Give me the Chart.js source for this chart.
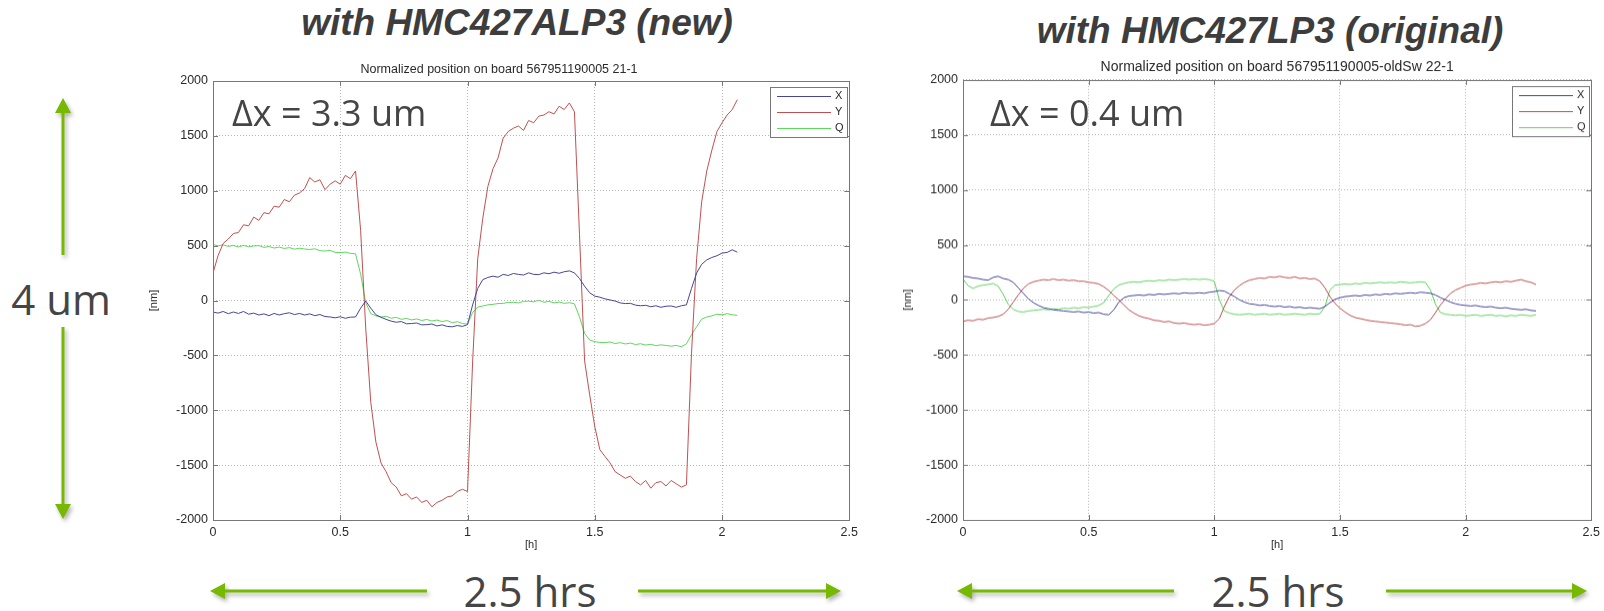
<!DOCTYPE html>
<html>
<head>
<meta charset="utf-8">
<script src="https://cdn.jsdelivr.net/npm/chart.js@4.4.1/dist/chart.umd.min.js"></script>
<style>
  html, body { margin:0; padding:0; background:#fff; }
  body { width:1604px; height:611px; position:relative; overflow:hidden; }
  canvas { position:absolute; }
  .head { position:absolute; font-family:"Liberation Sans", Arial, sans-serif; font-weight:bold; font-style:italic;
          font-size:37px; color:#3d3d3d; white-space:nowrap; line-height:1; transform:translate(-50%,-50%); }
  .note { position:absolute; font-family:"Open Sans", sans-serif; color:#454545; white-space:nowrap; line-height:1; }
  .mid { transform:translate(-50%,-50%); }
  svg { position:absolute; left:0; top:0; }
</style>
</head>
<body>
<canvas id="leftChart" width="716" height="496" style="left:147px;top:56px;width:716px;height:496px"></canvas>
<canvas id="rightChart" width="704" height="498" style="left:901px;top:53px;width:704px;height:499px"></canvas>

<div class="head" style="left:517px;top:22px">with HMC427ALP3 (new)</div>
<div class="head" style="left:1270px;top:30px">with HMC427LP3 (original)</div>
<div class="note" style="left:232px;top:95px;font-size:36px">Δx = 3.3 um</div>
<div class="note" style="left:990px;top:95px;font-size:36px">Δx = 0.4 um</div>
<div class="note mid" style="left:61px;top:299px;font-size:42px">4 um</div>
<div class="note mid" style="left:530px;top:591px;font-size:42px">2.5 hrs</div>
<div class="note mid" style="left:1278px;top:591px;font-size:42px">2.5 hrs</div>

<svg width="1604" height="611" style="filter:drop-shadow(2px 3px 2px rgba(0,0,0,0.3))">
  <g stroke="#76b900" stroke-width="3">
    <line x1="63" y1="110" x2="63" y2="255"/>
    <line x1="63" y1="327" x2="63" y2="507"/>
    <line x1="222" y1="591" x2="427" y2="591"/>
    <line x1="638" y1="591" x2="829" y2="591"/>
    <line x1="969" y1="591" x2="1174" y2="591"/>
    <line x1="1386" y1="591" x2="1575" y2="591"/>
  </g>
  <g fill="#76b900">
    <polygon points="63,98 55,113 71,113"/>
    <polygon points="63,519 55,504 71,504"/>
    <polygon points="210,591 225,583 225,599"/>
    <polygon points="841,591 826,583 826,599"/>
    <polygon points="957,591 972,583 972,599"/>
    <polygon points="1587,591 1572,583 1572,599"/>
  </g>
</svg>

<script>
// time axis [h], one sample every 0.02 h
const hours = [
  0,0.02,0.04,0.06,0.08,0.1,0.12,0.14,0.16,0.18,
  0.2,0.22,0.24,0.26,0.28,0.3,0.32,0.34,0.36,0.38,
  0.4,0.42,0.44,0.46,0.48,0.5,0.52,0.54,0.56,0.58,
  0.6,0.62,0.64,0.66,0.68,0.7,0.72,0.74,0.76,0.78,
  0.8,0.82,0.84,0.86,0.88,0.9,0.92,0.94,0.96,0.98,
  1,1.02,1.04,1.06,1.08,1.1,1.12,1.14,1.16,1.18,
  1.2,1.22,1.24,1.26,1.28,1.3,1.32,1.34,1.36,1.38,
  1.4,1.42,1.44,1.46,1.48,1.5,1.52,1.54,1.56,1.58,
  1.6,1.62,1.64,1.66,1.68,1.7,1.72,1.74,1.76,1.78,
  1.8,1.82,1.84,1.86,1.88,1.9,1.92,1.94,1.96,1.98,
  2,2.02,2.04,2.06,2.08,2.1,2.12,2.14,2.16,2.18,
  2.2,2.22,2.24,2.26,2.28
];

// board 567951190005 21-1 (new switch), [nm]
const leftX = [
  -105,-115,-100,-120,-105,-118,-100,-125,-115,-132,
  -122,-138,-118,-132,-120,-112,-128,-118,-132,-122,
  -138,-128,-146,-150,-158,-148,-162,-152,-150,-70,
  -5,-70,-130,-152,-172,-188,-198,-192,-212,-210,
  -205,-222,-220,-214,-232,-222,-236,-240,-228,-236,
  -220,-40,110,190,210,222,212,238,228,246,
  238,232,252,238,236,252,244,258,248,262,
  270,252,200,130,70,40,30,15,5,-5,
  -22,-28,-26,-42,-48,-44,-57,-48,-62,-52,
  -50,-62,-48,-40,110,250,330,370,392,408,
  432,438,462,440
];
const leftY = [
  250,410,520,560,610,620,690,680,760,730,
  800,790,860,850,920,900,960,980,1020,1120,
  1080,1100,1010,1060,1090,1060,1140,1110,1180,640,
  -250,-930,-1290,-1480,-1560,-1660,-1700,-1780,-1760,-1810,
  -1790,-1840,-1820,-1880,-1840,-1820,-1790,-1780,-1740,-1720,
  -1740,-560,380,750,1040,1200,1300,1480,1540,1570,
  1590,1550,1640,1620,1680,1690,1720,1700,1770,1740,
  1800,1720,600,-550,-860,-1150,-1360,-1420,-1480,-1560,
  -1590,-1620,-1600,-1650,-1680,-1640,-1710,-1660,-1650,-1690,
  -1640,-1670,-1700,-1680,-480,380,900,1180,1370,1540,
  1620,1690,1740,1830
];
const leftQ = [
  510,498,507,493,502,488,502,490,497,500,
  484,492,478,487,474,482,468,476,469,465,
  471,454,451,456,439,436,441,429,425,240,
  -20,-120,-140,-152,-143,-162,-153,-172,-163,-177,
  -168,-182,-173,-187,-178,-192,-183,-202,-193,-210,
  -215,-110,-60,-50,-40,-35,-28,-26,-18,-16,
  -22,-8,-6,-12,2,-16,-8,-22,-14,-26,
  -20,-30,-150,-300,-360,-375,-382,-384,-378,-392,
  -384,-396,-388,-401,-394,-406,-399,-412,-404,-410,
  -416,-409,-421,-395,-310,-240,-170,-150,-140,-125,
  -130,-120,-130,-135
];

// board 567951190005-oldSw 22-1 (original switch), [nm]
const rightX = [
  215,210,200,195,185,180,205,215,195,185,
  160,110,60,10,-25,-50,-70,-80,-90,-95,
  -100,-105,-110,-105,-115,-110,-120,-115,-130,-135,
  -90,-20,20,35,40,45,40,50,45,55,
  50,55,60,55,65,60,60,65,60,70,
  75,85,80,55,30,0,-20,-35,-40,-50,
  -45,-55,-60,-55,-65,-60,-70,-65,-75,-70,
  -75,-80,-60,-25,5,20,30,35,40,35,
  45,40,50,45,55,50,60,55,60,65,
  60,70,65,60,45,20,0,-20,-35,-45,
  -50,-55,-50,-60,-65,-60,-70,-75,-70,-80,
  -85,-90,-85,-95,-100
];
const rightY = [
  -195,-185,-190,-175,-180,-165,-160,-150,-130,-85,
  -20,45,105,145,165,175,185,180,190,180,
  185,175,180,170,170,160,155,145,120,85,
  40,0,-45,-90,-120,-145,-160,-170,-185,-190,
  -200,-195,-210,-215,-210,-220,-225,-220,-230,-225,
  -215,-170,-60,30,90,130,160,180,190,200,
  195,210,205,215,205,200,210,195,200,190,
  195,170,110,30,-30,-75,-110,-140,-160,-170,
  -180,-190,-195,-200,-205,-210,-215,-220,-230,-225,
  -240,-235,-215,-180,-115,-45,10,60,90,110,
  130,140,145,155,150,160,165,160,170,165,
  175,185,170,160,140
];
const rightQ = [
  190,130,105,125,135,140,150,125,50,-40,
  -85,-105,-110,-100,-95,-90,-85,-90,-80,-85,
  -75,-80,-70,-75,-65,-70,-60,-50,-25,40,
  100,135,150,160,165,160,170,175,170,180,
  175,185,180,185,190,185,190,185,190,185,
  170,0,-100,-120,-130,-135,-130,-125,-135,-130,
  -125,-135,-130,-125,-135,-130,-125,-130,-135,-125,
  -130,-125,-60,90,135,140,145,140,150,145,
  155,150,155,160,155,160,155,165,160,155,
  160,165,160,90,-40,-115,-130,-135,-140,-135,
  -145,-140,-135,-145,-140,-135,-145,-140,-150,-140,
  -145,-135,-140,-145,-135
];

const seriesNames = ['X', 'Y', 'Q'];
const seriesColors = ['#45459c', '#c05050', '#5fd65f'];

const tickFont = { family: 'Liberation Sans', size: 12.5 };
const inkColor = '#2a2a2a';

// matlab style box round the axes, ticks pointing inward
const framePlugin = {
  id: 'frame',
  afterDatasetsDraw(chart) {
    const { ctx, chartArea: a, scales } = chart;
    ctx.save();
    ctx.strokeStyle = '#777';
    ctx.lineWidth = 1;
    ctx.strokeRect(Math.round(a.left) + 0.5, Math.round(a.top) + 0.5,
                   Math.round(a.right - a.left), Math.round(a.bottom - a.top));
    ctx.beginPath();
    scales.x.ticks.forEach(t => {
      const px = Math.round(scales.x.getPixelForValue(t.value)) + 0.5;
      ctx.moveTo(px, a.bottom); ctx.lineTo(px, a.bottom - 5);
      ctx.moveTo(px, a.top); ctx.lineTo(px, a.top + 5);
    });
    scales.y.ticks.forEach(t => {
      const py = Math.round(scales.y.getPixelForValue(t.value)) + 0.5;
      ctx.moveTo(a.left, py); ctx.lineTo(a.left + 5, py);
      ctx.moveTo(a.right, py); ctx.lineTo(a.right - 5, py);
    });
    ctx.stroke();
    ctx.restore();
  }
};

// legend box in the top right corner of the plot
const boxLegend = {
  id: 'boxLegend',
  afterDraw(chart) {
    const { ctx, chartArea: a } = chart;
    const w = 77, h = 50;
    const x0 = Math.round(a.right) - w - 2, y0 = Math.round(a.top) + 6;
    ctx.save();
    ctx.fillStyle = '#fff';
    ctx.fillRect(x0, y0, w, h);
    ctx.strokeStyle = '#777';
    ctx.lineWidth = 1;
    ctx.strokeRect(x0 + 0.5, y0 + 0.5, w, h);
    ctx.font = '11px "Liberation Sans"';
    ctx.textBaseline = 'middle';
    chart.data.datasets.forEach((ds, i) => {
      const y = y0 + 9 + i * 16;
      ctx.strokeStyle = ds.borderColor;
      ctx.beginPath();
      ctx.moveTo(x0 + 7, y + 0.5);
      ctx.lineTo(x0 + 61, y + 0.5);
      ctx.stroke();
      ctx.fillStyle = inkColor;
      ctx.fillText(ds.label, x0 + 65, y);
    });
    ctx.restore();
  }
};

function makeChart(id, title, titleSize, titleFull, yWidth, series) {
  const datasets = series.map((values, k) => ({
    label: seriesNames[k],
    data: values.map((v, i) => ({ x: hours[i], y: v })),
    borderColor: seriesColors[k],
    borderWidth: 1,
    pointRadius: 0,
    tension: 0,
    fill: false
  }));
  return new Chart(document.getElementById(id), {
    type: 'line',
    data: { datasets },
    options: {
      responsive: false,
      animation: false,
      devicePixelRatio: 1,
      layout: { padding: { top: 6, right: 12, left: 0, bottom: 0 } },
      plugins: {
        legend: { display: false },
        tooltip: { enabled: false },
        title: {
          display: true,
          text: title,
          fullSize: titleFull,
          color: inkColor,
          font: { family: 'Liberation Sans', size: titleSize, weight: 'normal' },
          padding: { top: 0, bottom: 4 }
        }
      },
      scales: {
        x: {
          type: 'linear',
          min: 0,
          max: 2.5,
          afterFit: s => { s.height = 32; },
          ticks: { stepSize: 0.5, font: tickFont, color: inkColor, padding: 5, maxRotation: 0,
                   callback: v => String(v) },
          grid: { color: '#b5b5b5', drawTicks: false },
          border: { display: false, dash: [1, 2] },
          title: { display: true, text: '[h]', font: { family: 'Liberation Sans', size: 11 },
                   color: inkColor, padding: 0 }
        },
        y: {
          min: -2000,
          max: 2000,
          afterFit: s => { s.width = yWidth; },
          ticks: { stepSize: 500, font: tickFont, color: inkColor, padding: 5,
                   callback: v => String(v) },
          grid: { color: '#b5b5b5', drawTicks: false },
          border: { display: false, dash: [1, 2] },
          title: { display: true, text: '[nm]', font: { family: 'Liberation Sans', size: 11 },
                   color: inkColor, padding: 0 }
        }
      }
    },
    plugins: [framePlugin, boxLegend]
  });
}

makeChart('leftChart', 'Normalized position on board 567951190005 21-1', 12.5, true, 66,
          [leftX, leftY, leftQ]);
makeChart('rightChart', 'Normalized position on board 567951190005-oldSw 22-1', 14, false, 62,
          [rightX, rightY, rightQ]);
</script>
</body>
</html>
